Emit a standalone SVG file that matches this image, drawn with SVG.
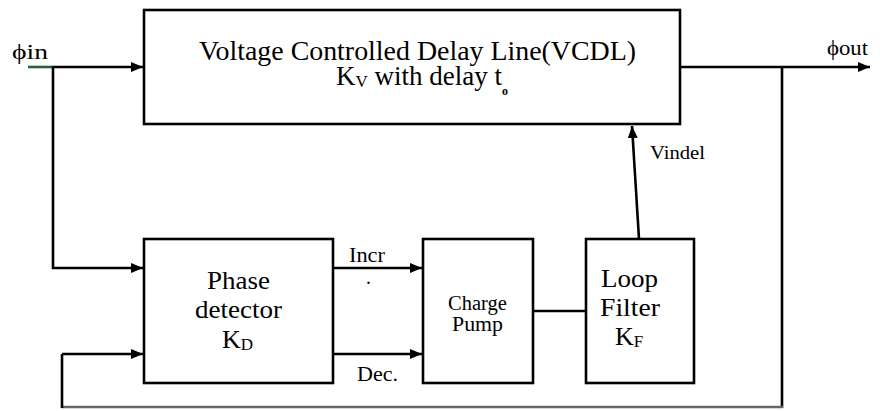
<svg xmlns="http://www.w3.org/2000/svg" width="880" height="411" viewBox="0 0 880 411">
<style>
.box{fill:#fff;stroke:#000;stroke-width:2.6}
.ln{fill:none;stroke:#000;stroke-width:2.6}
.t{font-family:"Liberation Serif","Times New Roman",serif;fill:#000}
.big{font-size:27px}
.mid{font-size:26px}
.sm{font-size:20px}
</style>
<defs>
<marker id="ah" viewBox="0 0 12 10" refX="12" refY="5" markerWidth="12" markerHeight="10" markerUnits="userSpaceOnUse" orient="auto">
<path d="M0,0 L12,5 L0,10 z" fill="#000"/>
</marker>
</defs>
<g id="connectors">
<line x1="28" y1="67" x2="53" y2="67" stroke="#2e5e3a" stroke-width="2.6"/>
<line class="ln" x1="53" y1="67" x2="143" y2="67" marker-end="url(#ah)"/>
<polyline class="ln" points="53,66 53,268 143,268" marker-end="url(#ah)"/>
<line class="ln" x1="333" y1="268" x2="422" y2="268" marker-end="url(#ah)"/>
<line class="ln" x1="333" y1="354" x2="422" y2="354" marker-end="url(#ah)"/>
<line class="ln" x1="533" y1="311" x2="586" y2="311"/>
<line class="ln" x1="639" y1="239" x2="632" y2="126" marker-end="url(#ah)"/>
<line class="ln" x1="680" y1="67" x2="870" y2="67" marker-end="url(#ah)"/>
<line class="ln" x1="782" y1="67" x2="782" y2="408"/>
<line stroke="#666" stroke-width="2.6" x1="783" y1="407" x2="61" y2="407"/>
<line class="ln" x1="62" y1="408" x2="62" y2="354"/>
<line class="ln" x1="62" y1="354" x2="143" y2="354" marker-end="url(#ah)"/>
<text class="t sm" x="349" y="262" textLength="36" lengthAdjust="spacingAndGlyphs">Incr</text>
<text class="t sm" x="366" y="284">.</text>
<text class="t sm" x="357" y="381" textLength="41" lengthAdjust="spacingAndGlyphs">Dec.</text>
<text class="t" x="650" y="159" font-size="19" textLength="55" lengthAdjust="spacingAndGlyphs">Vindel</text>
<text class="t" x="12" y="59" font-size="22" textLength="36" lengthAdjust="spacingAndGlyphs">ϕin</text>
<text class="t" x="827" y="55" font-size="22" textLength="41" lengthAdjust="spacingAndGlyphs">ϕout</text>
</g>
<g id="vcdl">
<rect class="box" x="144" y="10" width="536" height="114"/>
<text class="t big" x="199" y="60" textLength="437" lengthAdjust="spacingAndGlyphs">Voltage Controlled Delay Line(VCDL)</text>
<text class="t big" x="336" y="85">K<tspan font-size="17" dy="2">V</tspan><tspan dy="-2"> with delay t</tspan><tspan font-size="12" font-weight="bold" dy="10">o</tspan></text>
</g>
<g id="phase-detector">
<rect class="box" x="144" y="239" width="189" height="144"/>
<text class="t mid" x="207" y="289" textLength="63" lengthAdjust="spacingAndGlyphs">Phase</text>
<text class="t mid" x="195" y="318" textLength="87" lengthAdjust="spacingAndGlyphs">detector</text>
<text class="t mid" x="222" y="348">K<tspan font-size="17" dy="2">D</tspan></text>
</g>
<g id="charge-pump">
<rect class="box" x="423" y="239" width="110" height="144"/>
<text class="t sm" x="448" y="310" textLength="59" lengthAdjust="spacingAndGlyphs">Charge</text>
<text class="t sm" x="452" y="331" textLength="51" lengthAdjust="spacingAndGlyphs">Pump</text>
</g>
<g id="loop-filter">
<rect class="box" x="586" y="239" width="108" height="144"/>
<text class="t mid" x="601" y="287" textLength="57" lengthAdjust="spacingAndGlyphs">Loop</text>
<text class="t mid" x="600" y="316" textLength="60" lengthAdjust="spacingAndGlyphs">Filter</text>
<text class="t mid" x="615" y="345">K<tspan font-size="17" dy="2">F</tspan></text>
</g>
</svg>
